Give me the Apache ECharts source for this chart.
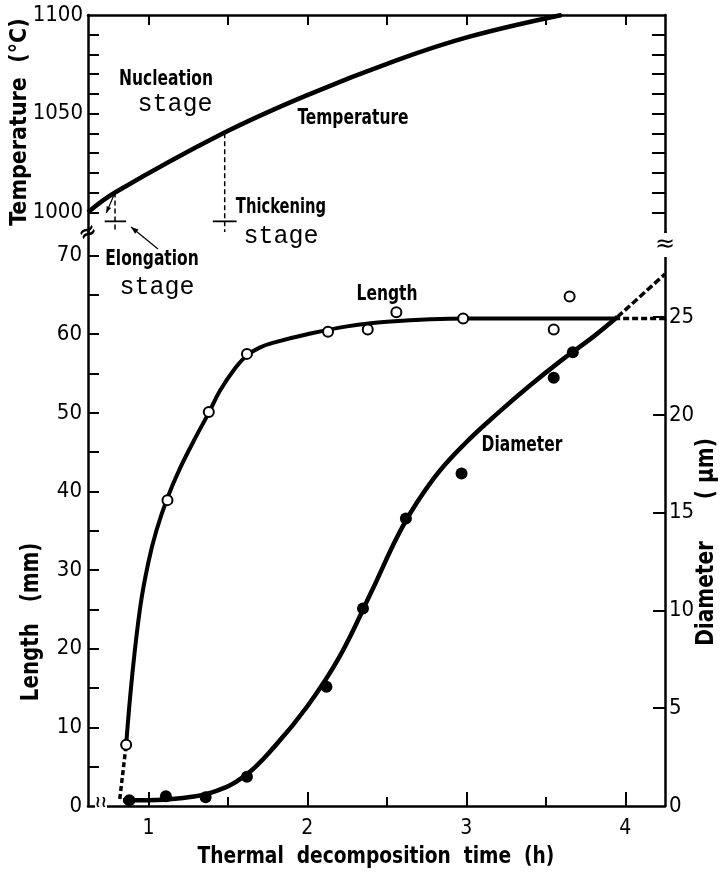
<!DOCTYPE html>
<html>
<head>
<meta charset="utf-8">
<script src="https://cdn.jsdelivr.net/npm/echarts@6/dist/echarts.min.js"></script>
<style>
  html, body { margin: 0; padding: 0; background: #fff; }
  #chart { width: 725px; height: 875px; }
</style>
</head>
<body>
<div id="chart"></div>
<script>
// measured points (open circles = length, filled dots = diameter)
const lengthTime = [0.86, 1.12, 1.38, 1.62, 2.13, 2.38, 2.56, 2.98, 3.55, 3.65];
const lengthValue = [7.8, 38.9, 50.1, 57.5, 60.3, 60.6, 62.8, 62.0, 60.6, 64.8];
const diameterTime = [0.88, 1.11, 1.36, 1.62, 2.12, 2.35, 2.62, 2.97, 3.55, 3.67];
const diameterValue = [0.3, 0.5, 0.45, 1.5, 6.1, 10.1, 14.7, 17.0, 21.9, 23.2];

// fitted curves as drawn
const lengthCurveTime = [0.86, 0.9, 0.95, 1.0, 1.05, 1.12, 1.2, 1.3, 1.38, 1.45, 1.55, 1.62, 1.7, 1.8, 2.0, 2.25, 2.5, 3.0, 3.5, 3.93];
const lengthCurveValue = [7.8, 17.0, 25.5, 31.0, 35.0, 39.2, 43.0, 47.0, 50.0, 52.8, 55.8, 57.3, 58.3, 59.0, 60.0, 61.0, 61.6, 62.0, 62.0, 62.0];
const lengthDashStart = [[0.82, 0.9], [0.86, 7.8]];
const lengthDashEnd = [[3.93, 62.0], [4.25, 62.0]];

const diameterCurveTime = [0.84, 1.0, 1.2, 1.4, 1.6, 1.8, 2.0, 2.2, 2.4, 2.6, 2.8, 3.0, 3.2, 3.4, 3.6, 3.8, 3.95];
const diameterCurveValue = [0.3, 0.3, 0.4, 0.7, 1.5, 3.1, 5.1, 7.6, 10.9, 14.3, 16.8, 18.6, 20.1, 21.5, 22.8, 24.0, 25.0];
const diameterDashEnd = [[3.95, 25.0], [4.25, 27.2]];

const tempTime = [0.62, 0.79, 1.47, 2.0, 2.56, 3.02, 3.6];
const tempValue = [1000, 1010, 1040, 1059.4, 1077, 1089, 1100];

// stage boundaries (h)
const elongationStart = 0.79;
const thickeningStart = 1.48;

// ticks
const timeLabels = [1, 2, 3, 4];
const timeMinorTicks = [1.5, 2.5, 3.5];
const timeTopTicks = [1, 1.5, 2, 2.5, 3, 3.5, 4];
const tempLabels = [1000, 1050, 1100];
const tempTicks = [1000, 1010, 1020, 1030, 1040, 1050, 1060, 1070, 1080, 1090];
const lengthLabels = [0, 10, 20, 30, 40, 50, 60, 70];
const lengthTicks = [5, 10, 15, 20, 25, 30, 35, 40, 45, 50, 55, 60, 65, 70];
const diameterLabels = [0, 5, 10, 15, 20, 25];
const diameterTicks = [5, 10, 15, 20, 25];

const FONT = "'Liberation Sans Narrow', 'DejaVu Sans Condensed', sans-serif";
const MONO = "'Liberation Mono', 'DejaVu Sans Mono', monospace";
const INK = '#000';

const zip = (a, b) => a.map((v, i) => [v, b[i]]);

const myChart = echarts.init(document.getElementById('chart'), null, { renderer: 'canvas' });

const axisLine = { show: true, lineStyle: { color: INK, width: 2.5 } };
const plain = v => String(v);
const labelStyle = { color: INK, fontSize: 22, fontFamily: FONT, formatter: plain };

let option = {
  backgroundColor: '#fff',
  animation: false,
  grid: [
    { left: 88, right: 60, top: 15, height: 217 },
    { left: 88, right: 60, top: 232, height: 574 },
  ],
  xAxis: [
    {
      gridIndex: 1, type: 'value', min: 0.62, max: 4.25, position: 'bottom',
      axisLine: axisLine,
      axisTick: { show: true, inside: true, length: 14, customValues: timeLabels, lineStyle: { color: INK, width: 2 } },
      axisLabel: { show: true, customValues: timeLabels, margin: 12, color: INK, fontSize: 21, fontFamily: FONT, formatter: plain },
      splitLine: { show: false },
    },
    {
      gridIndex: 1, type: 'value', min: 0.62, max: 4.25, position: 'bottom',
      axisLine: { show: false },
      axisTick: { show: true, inside: true, length: 9, customValues: timeMinorTicks, lineStyle: { color: INK, width: 2 } },
      axisLabel: { show: false },
      splitLine: { show: false },
    },
    {
      gridIndex: 0, type: 'value', min: 0.62, max: 4.25, position: 'top',
      axisLine: axisLine,
      axisTick: { show: true, inside: true, length: 10, customValues: timeTopTicks, lineStyle: { color: INK, width: 2 } },
      axisLabel: { show: false },
      splitLine: { show: false },
    },
  ],
  yAxis: [
    {
      gridIndex: 0, type: 'value', min: 990, max: 1100, position: 'left',
      axisLine: axisLine,
      axisTick: { show: true, inside: true, length: 11, customValues: tempTicks, lineStyle: { color: INK, width: 2 } },
      axisLabel: Object.assign({ customValues: tempLabels, margin: 5 }, labelStyle),
      splitLine: { show: false },
    },
    {
      gridIndex: 0, type: 'value', min: 990, max: 1100, position: 'right',
      axisLine: axisLine,
      axisTick: { show: true, inside: true, length: 13, customValues: tempTicks, lineStyle: { color: INK, width: 2 } },
      axisLabel: { show: false },
      splitLine: { show: false },
    },
    {
      gridIndex: 1, type: 'value', min: 0, max: 73, position: 'left',
      axisLine: axisLine,
      axisTick: { show: true, inside: true, length: 11, customValues: lengthTicks, lineStyle: { color: INK, width: 2 } },
      axisLabel: Object.assign({ customValues: lengthLabels, margin: 6 }, labelStyle),
      splitLine: { show: false },
    },
    {
      gridIndex: 1, type: 'value', min: 0, max: 29.35, position: 'right',
      axisLine: axisLine,
      axisTick: { show: true, inside: true, length: 12, customValues: diameterTicks, lineStyle: { color: INK, width: 2 } },
      axisLabel: Object.assign({ customValues: diameterLabels, margin: 4 }, labelStyle),
      splitLine: { show: false },
    },
  ],
  series: [
    {
      name: 'Temperature', type: 'line', xAxisIndex: 2, yAxisIndex: 0,
      data: zip(tempTime, tempValue), smooth: 0.4, showSymbol: false,
      lineStyle: { color: INK, width: 4.5 },
    },
    {
      type: 'line', xAxisIndex: 2, yAxisIndex: 0, showSymbol: false,
      data: [[elongationStart, 1010], [elongationStart, 990]],
      lineStyle: { color: INK, width: 1.5, type: [5, 3] },
    },
    {
      type: 'line', xAxisIndex: 2, yAxisIndex: 0, showSymbol: false,
      data: [[thickeningStart, 1040], [thickeningStart, 990]],
      lineStyle: { color: INK, width: 1.5, type: [5, 3] },
    },
    {
      type: 'line', xAxisIndex: 2, yAxisIndex: 0, showSymbol: false,
      data: [[elongationStart - 0.065, 995.4], [elongationStart + 0.07, 995.4]],
      lineStyle: { color: INK, width: 1.8 },
    },
    {
      type: 'line', xAxisIndex: 2, yAxisIndex: 0, showSymbol: false,
      data: [[thickeningStart - 0.075, 995.4], [thickeningStart + 0.075, 995.4]],
      lineStyle: { color: INK, width: 1.8 },
    },
    {
      name: 'Length', type: 'line', xAxisIndex: 0, yAxisIndex: 2,
      data: zip(lengthCurveTime, lengthCurveValue), smooth: 0.4, showSymbol: false,
      lineStyle: { color: INK, width: 4 },
    },
    {
      type: 'line', xAxisIndex: 0, yAxisIndex: 2, showSymbol: false,
      data: lengthDashStart, lineStyle: { color: INK, width: 3.5, type: [5, 3] },
    },
    {
      type: 'line', xAxisIndex: 0, yAxisIndex: 2, showSymbol: false,
      data: lengthDashEnd, lineStyle: { color: INK, width: 3.5, type: [6, 3] },
    },
    {
      name: 'Diameter', type: 'line', xAxisIndex: 0, yAxisIndex: 3,
      data: zip(diameterCurveTime, diameterCurveValue), smooth: 0.4, showSymbol: false,
      lineStyle: { color: INK, width: 4.5 },
    },
    {
      type: 'line', xAxisIndex: 0, yAxisIndex: 3, showSymbol: false,
      data: diameterDashEnd, lineStyle: { color: INK, width: 3.5, type: [7, 3] },
    },
    {
      name: 'Length points', type: 'scatter', xAxisIndex: 0, yAxisIndex: 2, z: 5,
      data: zip(lengthTime, lengthValue), symbol: 'circle', symbolSize: 10,
      itemStyle: { color: '#fff', borderColor: INK, borderWidth: 2, opacity: 1 },
    },
    {
      name: 'Diameter points', type: 'scatter', xAxisIndex: 0, yAxisIndex: 3, z: 5,
      data: zip(diameterTime, diameterValue), symbol: 'circle', symbolSize: 12,
      itemStyle: { color: INK, opacity: 1 },
    },
  ],
};

myChart.setOption(option);

// text annotations and axis titles (scaleX squeezes the text like the narrow type in the figure)
const txt = (x, y, s, size, sx) => ({
  type: 'text', x: x, y: y, z: 20, scaleX: sx || 0.82,
  style: { text: s, fill: INK, fontSize: size, fontFamily: FONT, fontWeight: 'bold', align: 'center', verticalAlign: 'middle' },
});
const mono = (x, y, s) => ({
  type: 'text', x: x, y: y, z: 20,
  style: { text: s, fill: INK, fontSize: 25, fontFamily: MONO, align: 'center', verticalAlign: 'middle' },
});
const rot = (x, y, s, size, sx) => ({
  type: 'text', x: x, y: y, rotation: Math.PI / 2, scaleX: sx, z: 20,
  style: { text: s, fill: INK, fontSize: size, fontFamily: FONT, fontWeight: 'bold', align: 'center', verticalAlign: 'middle' },
});
const arrow = (from, to, ah, width) => {
  const ang = Math.atan2(to[1] - from[1], to[0] - from[0]);
  return [
    { type: 'line', z: 20, shape: { x1: from[0], y1: from[1], x2: to[0], y2: to[1] }, style: { stroke: INK, lineWidth: width } },
    {
      type: 'polygon', z: 20, style: { fill: INK },
      shape: { points: [
        to,
        [to[0] - ah * Math.cos(ang - 0.35), to[1] - ah * Math.sin(ang - 0.35)],
        [to[0] - ah * Math.cos(ang + 0.35), to[1] - ah * Math.sin(ang + 0.35)],
      ] },
    },
  ];
};

// small arrow from the temperature kink (nucleation -> elongation)
const kinkPx = myChart.convertToPixel({ xAxisIndex: 2, yAxisIndex: 0 }, [elongationStart, 1010]);
const kinkTipPx = myChart.convertToPixel({ xAxisIndex: 2, yAxisIndex: 0 }, [0.735, 999.6]);

myChart.setOption({
  graphic: [
    txt(166, 80, 'Nucleation', 21),
    mono(175, 104, 'stage'),
    txt(353, 119, 'Temperature', 21),
    txt(281, 208, 'Thickening', 21, 0.78),
    mono(281, 236, 'stage'),
    txt(152, 260, 'Elongation', 21),
    mono(157, 287, 'stage'),
    txt(387, 295, 'Length', 21),
    txt(522, 446, 'Diameter', 21),
    rot(20, 122, 'Temperature  (°C)', 23, 1),
    rot(32, 622, 'Length   (mm)', 24, 0.92),
    rot(707, 542, 'Diameter      ( μm)', 24, 0.93),
    txt(376, 857, 'Thermal  decomposition  time  (h)', 23, 0.9),
    ...arrow([158, 249], [131, 227], 8, 1.2),
    ...arrow(kinkPx, kinkTipPx, 7, 1.2),
    // axis break marks
    { type: 'text', x: 88, y: 233, z: 21, rotation: 0.5, style: { text: '≈', fill: INK, fontSize: 22, fontWeight: 'bold', fontFamily: 'DejaVu Sans', align: 'center', verticalAlign: 'middle' } },
    { type: 'text', x: 665, y: 245, z: 21, style: { text: '≈', fill: INK, fontSize: 24, fontFamily: 'DejaVu Sans', align: 'center', verticalAlign: 'middle', backgroundColor: '#fff' } },
    { type: 'text', x: 101, y: 803, z: 21, style: { text: '≀≀', fill: INK, fontSize: 16, fontWeight: 'bold', fontFamily: 'DejaVu Sans', align: 'center', verticalAlign: 'middle', backgroundColor: '#fff' } },
  ],
});

window.onresize = () => {
  myChart.resize();
};
</script>
</body>
</html>
